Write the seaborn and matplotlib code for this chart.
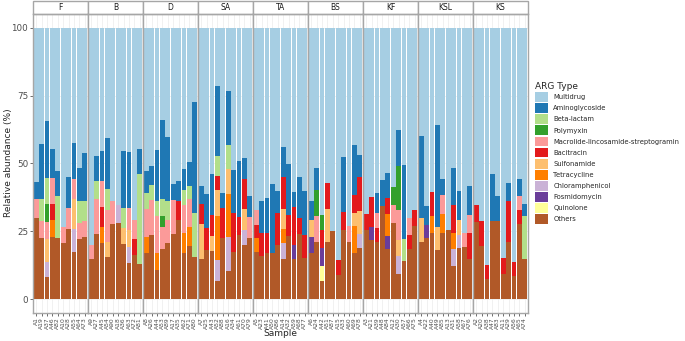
import matplotlib
matplotlib.use("Agg")
import matplotlib.pyplot as plt
from matplotlib.patches import Patch, Rectangle
import pandas as pd
import seaborn as sns

groups = ["F", "B", "D", "SA", "TA", "BS", "KF", "KSL", "KS"]
samples = [
    ["A1", "A19", "A37", "A46", "A82", "A10", "A28", "A55", "A64", "A73"],
    ["A9", "A27", "A45", "A54", "A90", "A18", "A36", "A63", "A72", "A81"],
    ["A8", "A26", "A44", "A53", "A89", "A17", "A35", "A62", "A71", "A80"],
    ["A7", "A25", "A43", "A52", "A88", "A16", "A34", "A61", "A70", "A79"],
    ["A5", "A23", "A41", "A50", "A86", "A14", "A32", "A59", "A68", "A77"],
    ["A6", "A24", "A42", "A51", "A87", "A15", "A33", "A60", "A69", "A78"],
    ["A3", "A21", "A39", "A48", "A84", "A12", "A30", "A57", "A66", "A75"],
    ["A4", "A22", "A40", "A49", "A85", "A13", "A31", "A58", "A67", "A76"],
    ["A2", "A20", "A38", "A47", "A83", "A11", "A29", "A56", "A65", "A74"],
]
arg_types = ["Multidrug", "Aminoglycoside", "Beta-lactam", "Polymyxin",
             "Macrolide-lincosamide-streptogramin", "Bacitracin", "Sulfonamide",
             "Tetracycline", "Chloramphenicol", "Fosmidomycin", "Quinolone", "Others"]

# values per sample, facets in order F, B, D, SA, TA, BS, KF, KSL, KS
others = [
    30, 22.7, 8.2, 23, 22.7, 20.7, 25.9, 17.4, 22.2, 23,
    14.9, 24.2, 20.7, 15.6, 27.8, 28, 20.4, 13.4, 16.4, 13.1,
    16.9, 23.6, 11, 18.7, 20.8, 24.1, 29.3, 17.1, 19.8, 15.6,
    14.9, 18.3, 17.7, 6.7, 22.5, 10.6, 17.4, 23.7, 19.9, 22.7,
    17.4, 16.1, 16.9, 17.1, 20.2, 14.8, 23.5, 14.7, 24.2, 15.2,
    16.9, 21.1, 6.7, 21, 25, 8.8, 25.7, 21, 17.1, 18.9,
    25.7, 21.8, 21.1, 34.5, 18.6, 28.1, 9.5, 14.3, 18.6, 27.1,
    21, 22.5, 24.4, 18.1, 24.4, 25.7, 12.2, 18.9, 19.3, 15,
    28.4, 19.6, 7.6, 29, 29, 9.5, 21, 8.6, 27.8, 14.7,
]
quinolone = [
    0, 0, 0, 0, 0, 0, 0, 0, 0, 0,
    0, 0, 0, 0, 0, 0, 0, 0, 0, 0,
    0, 0, 0, 0, 0, 0, 0, 0, 0, 0,
    0, 0, 0, 0, 0, 0, 0, 0, 0, 0,
    0, 0, 0, 0, 0, 0, 0, 0, 0, 0,
    0, 0, 5.5, 0, 0, 0, 0, 0, 0, 0,
    0, 0, 0, 0, 0, 0, 0, 0, 0, 0,
    0, 0, 0, 0, 0, 0, 0, 0, 0, 0,
    0, 0, 0, 0, 0, 0, 0, 0, 0, 0,
]
fosmidomycin = [
    0, 0, 0, 0, 0, 0, 0, 0, 0, 0,
    0, 0, 0, 0, 0, 0, 0, 0, 0, 0,
    0, 0, 0, 0, 0, 0, 0, 0, 0, 0,
    0, 0, 0, 0, 0, 0, 0, 0, 0, 0,
    0, 0, 0, 0, 0, 0, 0, 5.2, 0, 0,
    6.1, 0, 6.6, 0, 0, 0, 0, 0, 0, 0,
    0, 5, 0, 0, 4.9, 0, 0, 0, 0, 0,
    0, 5, 0, 0, 0, 0, 0, 0, 0, 0,
    0, 0, 0, 0, 0, 0, 0, 0, 0, 0,
]
chloramphenicol = [
    0, 0, 5.6, 0, 0, 0, 0, 8.5, 0, 0,
    0, 0, 0, 0, 0, 6.6, 0, 6, 0, 0,
    0, 0, 0, 0, 0, 0, 0, 0, 0, 0,
    0, 0, 0, 7.8, 0, 12.4, 0, 0, 5.8, 0,
    0, 0, 0, 0, 0, 6, 0, 0, 0, 0,
    0, 0, 0, 0, 0, 0, 0, 0, 0, 5.3,
    0, 0, 0, 0, 0, 0, 6.6, 0, 0, 0,
    0, 0, 0, 0, 0, 0, 6.5, 4.9, 0, 0,
    0, 0, 0, 0, 0, 0, 0, 0, 0, 0,
]
tetracycline = [
    0, 0, 0, 6.3, 0, 0, 0, 0, 0, 0,
    0, 0, 6.1, 0, 0, 0, 0, 0, 0, 0,
    6, 0, 6.1, 0, 0, 0, 0, 7.3, 6.9, 0,
    0, 0, 0, 16.3, 0, 15.9, 0, 0, 0, 0,
    5.1, 0, 0, 0, 0, 5.2, 0, 0, 0, 0,
    0, 0, 0, 0, 0, 0, 0, 0, 9.8, 0,
    0, 0, 0, 0, 8, 0, 0, 0, 0, 0,
    0, 0, 6.4, 0, 7.1, 0, 5.7, 0, 0, 0,
    0, 0, 0, 0, 0, 0, 0, 0, 0, 0,
]
sulfonamide = [
    0, 0, 8.4, 0, 0, 0, 0, 11, 0, 0,
    0, 0, 0, 5.4, 0, 0, 5.8, 6.3, 0, 0,
    0, 0, 0, 0, 0, 0, 0, 0, 0, 0,
    12.9, 0, 5.8, 9.3, 0, 9, 0, 0, 7.6, 0,
    0, 0, 0, 0, 0, 7.3, 0, 0, 0, 0,
    6.3, 0, 0, 12.3, 0, 0, 0, 0, 4.9, 8.2,
    0, 0, 0, 0, 0, 0, 5.9, 0, 0, 0,
    9, 0, 0, 8.4, 0, 0, 0, 5.5, 0, 0,
    0, 0, 0, 0, 0, 0, 0, 0, 0, 0,
]
bacitracin = [
    0, 0, 0, 5.9, 0, 0, 0, 0, 0, 0,
    0, 0, 7.1, 0, 0, 0, 0, 0, 5.8, 0,
    0, 0, 0, 0, 0, 0, 6.9, 0, 0, 0,
    7.4, 7.9, 7.5, 5.4, 11.1, 0, 14.4, 6.6, 11.1, 0,
    5, 8.3, 7.5, 0, 11.6, 11.9, 7.7, 14, 5.8, 8.6,
    0, 0, 6.6, 9.7, 0, 5.6, 6.6, 0, 6.6, 12.6,
    5.7, 10.9, 5.1, 0, 5.9, 0, 0, 0, 5.1, 5.9,
    0, 0, 8.8, 0, 0, 0, 10.4, 0, 0, 9.4,
    6.2, 9.4, 5.2, 0, 0, 5.7, 15.3, 5.2, 5.2, 0,
]
mls = [
    7, 6, 6.2, 9.5, 0, 6.1, 7.7, 7.4, 5.8, 5.7,
    5, 12.8, 9.7, 12, 8.3, 0, 0, 7.9, 6.9, 0,
    10.5, 13.1, 13.5, 8, 8.3, 12.3, 0, 10.4, 10.2, 0,
    0, 0, 0, 0, 0, 0, 0, 0, 0, 7.6,
    5.3, 0, 0, 0, 0, 0, 0, 0, 0, 0,
    0, 9.5, 0, 0, 0, 0, 0, 6.1, 0, 0,
    0, 0, 5.6, 0, 0, 6.7, 11, 0, 6.3, 0,
    0, 0, 0, 0, 7, 0, 0, 0, 5.1, 6.8,
    0, 0, 0, 0, 0, 0, 0, 0, 5.1, 0,
]
polymyxin = [
    0, 0, 6.6, 0, 0, 0, 0, 0, 0, 0,
    0, 0, 0, 0, 0, 0, 0, 0, 0, 0,
    0, 0, 0, 3.9, 0, 0, 0, 0, 0, 0,
    0, 0, 0, 0, 0, 0, 0, 0, 0, 0,
    0, 0, 0, 0, 0, 0, 0, 0, 0, 0,
    0, 9.7, 5.5, 0, 0, 0, 0, 0, 0, 0,
    0, 0, 0, 0, 0, 6.5, 16.1, 0, 0, 0,
    0, 0, 0, 0, 0, 0, 0, 0, 0, 0,
    0, 0, 0, 0, 0, 0, 0, 0, 0, 0,
]
beta_lactam = [
    0, 8.3, 9.6, 0, 15.4, 0, 0, 0, 8.2, 7.5,
    0, 6.6, 0, 7.8, 0, 0, 7.4, 0, 0, 33.1,
    5.7, 5.5, 5.7, 6.3, 7, 0, 0, 5.5, 4.9, 16.2,
    0, 0, 0, 7.3, 0, 8.8, 0, 0, 0, 0,
    0, 0, 0, 0, 0, 0, 0, 0, 0, 0,
    0, 0, 0, 0, 0, 0, 0, 0, 0, 0,
    0, 0, 0, 0, 0, 0, 0, 7.9, 0, 0,
    0, 0, 0, 0, 0, 0, 0, 0, 0, 0,
    0, 0, 0, 0, 0, 0, 0, 0, 0, 15.9,
]
aminoglycoside = [
    6.3, 20.2, 21.2, 10.8, 9.2, 0, 11.5, 13.2, 12.3, 17.7,
    0, 9.2, 10.9, 18.7, 0, 0, 21, 20.8, 0, 9.2,
    8.3, 6.9, 18.6, 29, 23.6, 5.9, 7.2, 7.6, 8.6, 40.9,
    6.6, 12.6, 15.2, 25.8, 5.5, 20.1, 15.9, 20.8, 7.7, 7.6,
    0, 11.8, 12.8, 25.4, 7.9, 11, 18.7, 5.5, 15.2, 16.2,
    7, 7.9, 0, 0, 0, 0, 20, 0, 18.4, 8.2,
    0, 0, 7.3, 9.3, 9.1, 0, 13.2, 27.4, 0, 0,
    30.1, 6.7, 0, 37.7, 5.9, 0, 13.5, 10.7, 0, 10.6,
    0, 0, 0, 17.2, 9.1, 0, 6.5, 0, 6.3, 4.6,
]

minor = {
    "Aminoglycoside": aminoglycoside, "Beta-lactam": beta_lactam,
    "Polymyxin": polymyxin, "Macrolide-lincosamide-streptogramin": mls,
    "Bacitracin": bacitracin, "Sulfonamide": sulfonamide,
    "Tetracycline": tetracycline, "Chloramphenicol": chloramphenicol,
    "Fosmidomycin": fosmidomycin, "Quinolone": quinolone, "Others": others,
}

rows = []
for gi, g in enumerate(groups):
    for pos, name in enumerate(samples[gi]):
        i = gi * 10 + pos
        rest = 0
        for arg, vals in minor.items():
            rows.append((g, pos, name, arg, vals[i]))
            rest += vals[i]
        # multidrug makes up the remainder of each sample
        rows.append((g, pos, name, "Multidrug", 100 - rest))
df = pd.DataFrame(rows, columns=["group", "pos", "sample", "arg", "value"])

sns.set_theme(style="white")
plt.rcParams["font.family"] = ["DejaVu Sans"]
palette = dict(zip(arg_types, sns.color_palette("Paired", 12)))

fig, axes = plt.subplots(1, 9, figsize=(6.85, 3.41), dpi=100, sharey=True)
fig.subplots_adjust(left=33 / 685, right=528 / 685, top=1 - 14 / 341,
                    bottom=1 - 313 / 341, wspace=0)

for gi, (ax, g) in enumerate(zip(axes, groups)):
    sub = df[df["group"] == g]
    ax.set_axisbelow(True)
    sns.histplot(data=sub, x="pos", weights="value", hue="arg", hue_order=arg_types,
                 multiple="stack", discrete=True, shrink=0.9, palette=palette,
                 linewidth=0, alpha=1, legend=False, ax=ax)
    ax.set_xlim(-0.6, 9.6)
    ax.set_ylim(-5, 105)
    ax.set_xticks(range(10))
    ax.set_xticklabels(samples[gi], rotation=90, fontsize=4.3, color="#4d4d4d")
    ax.set_yticks([0, 25, 50, 75, 100])
    ax.grid(True, color="#ebebeb", lw=0.5)
    ax.set_xlabel("")
    ax.set_ylabel("")
    ax.tick_params(axis="x", length=2, width=0.5, color="#333333", pad=1, bottom=True)
    if gi == 0:
        ax.tick_params(axis="y", length=2, width=0.5, color="#333333", pad=1.5,
                       labelsize=6.3, labelcolor="#4d4d4d", left=True)
    else:
        ax.tick_params(axis="y", left=False)
    for s in ax.spines.values():
        s.set_color("#a6a6a6")
        s.set_linewidth(1)
    ax.add_patch(Rectangle((0, 1), 1, 13 / 299, transform=ax.transAxes, clip_on=False,
                           facecolor="white", edgecolor="#a6a6a6", lw=1))
    ax.text(0.5, 1 + 6.5 / 299, g, transform=ax.transAxes, ha="center", va="center",
            fontsize=5.5, color="#1a1a1a")

fig.text(9 / 685, 1 - 163 / 341, "Relative abundance (%)", rotation=90,
         ha="center", va="center", fontsize=6.5)
fig.text((33 + 528) / 2 / 685, 1 - 334 / 341, "Sample", ha="center", va="center",
         fontsize=6.5)

handles = [Patch(facecolor=palette[a], edgecolor="none") for a in arg_types]
fig.legend(handles, arg_types, title="ARG Type", loc="upper left",
           bbox_to_anchor=(535 / 685, 1 - 82 / 341), frameon=False, fontsize=4.9,
           title_fontsize=6.5, handlelength=1.95, handleheight=1.85, labelspacing=0.18,
           handletextpad=0.75, alignment="left", borderaxespad=0, borderpad=0)

fig.savefig("out.png", dpi=100)
